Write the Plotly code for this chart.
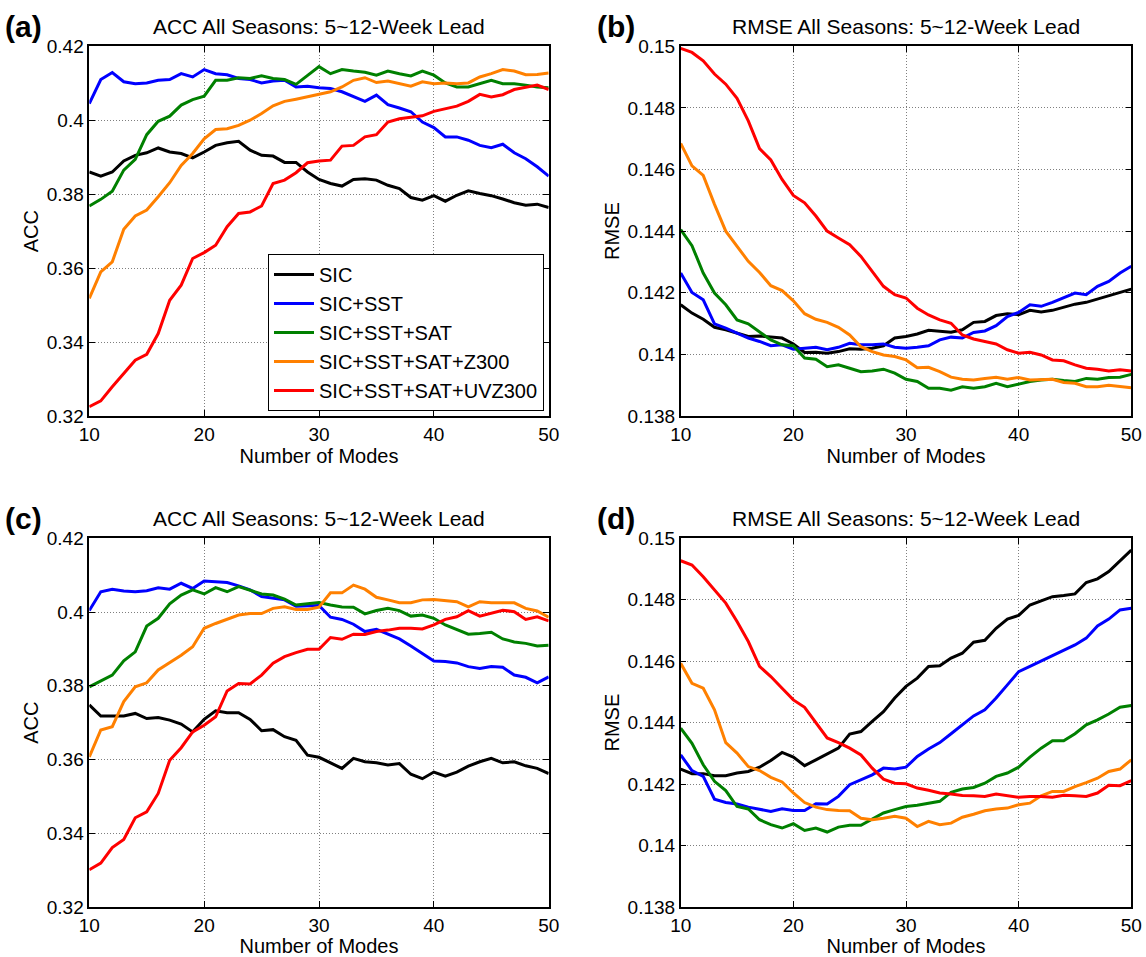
import plotly.graph_objects as go

W, H = 1146, 957

modes = list(range(10, 51))
series_names = ["SIC", "SIC+SST", "SIC+SST+SAT", "SIC+SST+SAT+Z300", "SIC+SST+SAT+UVZ300"]
series_colors = ["#000000", "#0000FF", "#008000", "#FF8000", "#FF0000"]

x_ticks = [10, 20, 30, 40, 50]
acc_ticks = [0.32, 0.34, 0.36, 0.38, 0.40, 0.42]
acc_tick_text = ["0.32", "0.34", "0.36", "0.38", "0.4", "0.42"]
rmse_ticks = [0.138, 0.140, 0.142, 0.144, 0.146, 0.148, 0.150]
rmse_tick_text = ["0.138", "0.14", "0.142", "0.144", "0.146", "0.148", "0.15"]

# ---- panel (a): ACC ----
acc_a_sic = [0.3860, 0.3849, 0.3860, 0.3890, 0.3905, 0.3912, 0.3925, 0.3914, 0.3910, 0.3898, 0.3914,
             0.3932, 0.3939, 0.3943, 0.3919, 0.3905, 0.3903, 0.3886, 0.3886, 0.3860, 0.3840,
             0.3829, 0.3822, 0.3840, 0.3842, 0.3838, 0.3824, 0.3815, 0.3791, 0.3784, 0.3796,
             0.3781, 0.3797, 0.3809, 0.3802, 0.3796, 0.3787, 0.3777, 0.3770, 0.3773, 0.3764]
acc_a_sst = [0.4045, 0.4110, 0.4129, 0.4104, 0.4099, 0.4101, 0.4108, 0.4110, 0.4126, 0.4117, 0.4137,
             0.4126, 0.4123, 0.4113, 0.4110, 0.4101, 0.4106, 0.4108, 0.4090, 0.4092, 0.4088,
             0.4086, 0.4077, 0.4065, 0.4051, 0.4068, 0.4042, 0.4033, 0.4023, 0.3995, 0.3980,
             0.3955, 0.3955, 0.3946, 0.3932, 0.3926, 0.3935, 0.3912, 0.3896, 0.3874, 0.3849]
acc_a_sat = [0.3768, 0.3786, 0.3808, 0.3865, 0.3894, 0.3961, 0.3997, 0.4011, 0.4041, 0.4056, 0.4065,
             0.4108, 0.4108, 0.4115, 0.4113, 0.4120, 0.4113, 0.4110, 0.4097, 0.4122, 0.4145,
             0.4126, 0.4137, 0.4133, 0.4130, 0.4122, 0.4133, 0.4126, 0.4120, 0.4133, 0.4122,
             0.4101, 0.4090, 0.4090, 0.4099, 0.4108, 0.4099, 0.4099, 0.4095, 0.4090, 0.4088]
acc_a_z300 = [0.3518, 0.3590, 0.3617, 0.3705, 0.3741, 0.3757, 0.3793, 0.3831, 0.3878, 0.3910, 0.3950,
              0.3975, 0.3977, 0.3986, 0.4000, 0.4018, 0.4039, 0.4051, 0.4057, 0.4063, 0.4070,
              0.4077, 0.4090, 0.4108, 0.4115, 0.4102, 0.4106, 0.4099, 0.4092, 0.4104, 0.4099,
              0.4101, 0.4099, 0.4101, 0.4117, 0.4126, 0.4137, 0.4133, 0.4123, 0.4124, 0.4128]
acc_a_uvz300 = [0.3225, 0.3241, 0.3279, 0.3315, 0.3351, 0.3367, 0.3423, 0.3513, 0.3554, 0.3626, 0.3642,
                0.3662, 0.3712, 0.3748, 0.3752, 0.3768, 0.3829, 0.3838, 0.3858, 0.3885, 0.3890,
                0.3892, 0.3930, 0.3932, 0.3955, 0.3961, 0.3995, 0.4004, 0.4009, 0.4012, 0.4024,
                0.4032, 0.4038, 0.4051, 0.4070, 0.4063, 0.4069, 0.4083, 0.4090, 0.4095, 0.4083]

# ---- panel (b): RMSE ----
rmse_b_sic = [0.14161, 0.14134, 0.14114, 0.14088, 0.14080, 0.14069, 0.14058, 0.14060, 0.14056, 0.14053, 0.14034,
              0.14006, 0.14007, 0.14004, 0.14009, 0.14018, 0.14017, 0.14020, 0.14028, 0.14053, 0.14058,
              0.14066, 0.14078, 0.14076, 0.14072, 0.14080, 0.14104, 0.14107, 0.14126, 0.14132, 0.14129,
              0.14143, 0.14138, 0.14143, 0.14152, 0.14163, 0.14169, 0.14180, 0.14190, 0.14201, 0.14212]
rmse_b_sst = [0.14264, 0.14201, 0.14177, 0.14099, 0.14085, 0.14069, 0.14053, 0.14042, 0.14028, 0.14031, 0.14017,
              0.14020, 0.14023, 0.14015, 0.14023, 0.14036, 0.14031, 0.14031, 0.14034, 0.14023, 0.14020,
              0.14023, 0.14028, 0.14047, 0.14056, 0.14053, 0.14071, 0.14076, 0.14093, 0.14123, 0.14136,
              0.14161, 0.14156, 0.14169, 0.14183, 0.14199, 0.14194, 0.14221, 0.14237, 0.14264, 0.14286]
rmse_b_sat = [0.14405, 0.14353, 0.14264, 0.14199, 0.14161, 0.14112, 0.14099, 0.14074, 0.14047, 0.14031, 0.14028,
              0.13988, 0.13984, 0.13960, 0.13966, 0.13955, 0.13944, 0.13946, 0.13952, 0.13939, 0.13919,
              0.13912, 0.13890, 0.13890, 0.13884, 0.13895, 0.13890, 0.13895, 0.13906, 0.13895, 0.13904,
              0.13912, 0.13917, 0.13919, 0.13915, 0.13912, 0.13922, 0.13919, 0.13925, 0.13926, 0.13935]
rmse_b_z300 = [0.14685, 0.14612, 0.14581, 0.14487, 0.14400, 0.14351, 0.14302, 0.14266, 0.14223, 0.14207, 0.14174,
               0.14132, 0.14114, 0.14104, 0.14088, 0.14063, 0.14025, 0.14009, 0.13998, 0.13993, 0.13982,
               0.13957, 0.13958, 0.13944, 0.13926, 0.13919, 0.13917, 0.13922, 0.13926, 0.13919, 0.13925,
               0.13917, 0.13919, 0.13919, 0.13909, 0.13906, 0.13895, 0.13895, 0.13900, 0.13895, 0.13892]
rmse_b_uvz300 = [0.14993, 0.14980, 0.14953, 0.14910, 0.14877, 0.14831, 0.14758, 0.14668, 0.14631, 0.14568, 0.14516,
                 0.14492, 0.14449, 0.14400, 0.14378, 0.14356, 0.14318, 0.14270, 0.14221, 0.14194, 0.14183,
                 0.14150, 0.14128, 0.14112, 0.14101, 0.14063, 0.14050, 0.14042, 0.14034, 0.14015, 0.14004,
                 0.14007, 0.13998, 0.13982, 0.13979, 0.13966, 0.13955, 0.13952, 0.13946, 0.13950, 0.13946]

# ---- panel (c): ACC ----
acc_c_sic = [0.3748, 0.3718, 0.3718, 0.3718, 0.3725, 0.3711, 0.3714, 0.3707, 0.3696, 0.3675, 0.3709,
             0.3732, 0.3727, 0.3727, 0.3709, 0.3678, 0.3681, 0.3662, 0.3652, 0.3612, 0.3606,
             0.3591, 0.3576, 0.3603, 0.3594, 0.3591, 0.3585, 0.3589, 0.3560, 0.3548, 0.3566,
             0.3555, 0.3566, 0.3582, 0.3594, 0.3603, 0.3591, 0.3594, 0.3583, 0.3576, 0.3562]
acc_c_sst = [0.4004, 0.4055, 0.4062, 0.4057, 0.4055, 0.4058, 0.4066, 0.4062, 0.4078, 0.4064, 0.4084,
             0.4082, 0.4080, 0.4071, 0.4060, 0.4042, 0.4037, 0.4033, 0.4016, 0.4016, 0.4018,
             0.3986, 0.3980, 0.3967, 0.3947, 0.3953, 0.3940, 0.3927, 0.3908, 0.3888, 0.3867,
             0.3866, 0.3862, 0.3852, 0.3847, 0.3852, 0.3850, 0.3829, 0.3823, 0.3808, 0.3824]
acc_c_sat = [0.3797, 0.3814, 0.3829, 0.3868, 0.3892, 0.3962, 0.3983, 0.4022, 0.4046, 0.4060, 0.4049,
             0.4066, 0.4055, 0.4069, 0.4058, 0.4049, 0.4046, 0.4035, 0.4019, 0.4023, 0.4026,
             0.4019, 0.4014, 0.4013, 0.3995, 0.4004, 0.4010, 0.4004, 0.3989, 0.3992, 0.3983,
             0.3965, 0.3953, 0.3940, 0.3942, 0.3945, 0.3927, 0.3919, 0.3915, 0.3908, 0.3910]
acc_c_z300 = [0.3607, 0.3680, 0.3689, 0.3757, 0.3797, 0.3808, 0.3843, 0.3862, 0.3883, 0.3906, 0.3956,
              0.3969, 0.3980, 0.3992, 0.3996, 0.3996, 0.4010, 0.4014, 0.4007, 0.4007, 0.4013,
              0.4052, 0.4052, 0.4073, 0.4062, 0.4040, 0.4033, 0.4025, 0.4025, 0.4033, 0.4034,
              0.4030, 0.4028, 0.4014, 0.4028, 0.4025, 0.4025, 0.4025, 0.4010, 0.4003, 0.3986]
acc_c_uvz300 = [0.3301, 0.3319, 0.3361, 0.3383, 0.3442, 0.3458, 0.3508, 0.3598, 0.3632, 0.3675, 0.3693,
                0.3716, 0.3786, 0.3806, 0.3805, 0.3829, 0.3861, 0.3879, 0.3890, 0.3899, 0.3899,
                0.3931, 0.3926, 0.3940, 0.3939, 0.3947, 0.3951, 0.3956, 0.3956, 0.3954, 0.3965,
                0.3980, 0.3987, 0.4004, 0.3989, 0.3996, 0.4005, 0.4001, 0.3980, 0.3987, 0.3976]

# ---- panel (d): RMSE ----
rmse_d_sic = [0.14249, 0.14234, 0.14234, 0.14227, 0.14227, 0.14236, 0.14241, 0.14255, 0.14277, 0.14303, 0.14288,
              0.14260, 0.14279, 0.14299, 0.14317, 0.14363, 0.14371, 0.14404, 0.14436, 0.14480, 0.14518,
              0.14545, 0.14583, 0.14585, 0.14610, 0.14626, 0.14662, 0.14668, 0.14707, 0.14737, 0.14749,
              0.14783, 0.14796, 0.14810, 0.14814, 0.14819, 0.14856, 0.14868, 0.14892, 0.14926, 0.14962]
rmse_d_sst = [0.14295, 0.14244, 0.14225, 0.14151, 0.14140, 0.14135, 0.14125, 0.14119, 0.14111, 0.14120, 0.14114,
              0.14114, 0.14136, 0.14135, 0.14160, 0.14198, 0.14214, 0.14230, 0.14252, 0.14249, 0.14255,
              0.14290, 0.14314, 0.14335, 0.14364, 0.14393, 0.14422, 0.14442, 0.14480, 0.14523, 0.14566,
              0.14583, 0.14601, 0.14617, 0.14637, 0.14653, 0.14675, 0.14715, 0.14737, 0.14767, 0.14772]
rmse_d_sat = [0.14382, 0.14333, 0.14263, 0.14209, 0.14179, 0.14127, 0.14119, 0.14084, 0.14068, 0.14057, 0.14071,
              0.14049, 0.14057, 0.14044, 0.14060, 0.14066, 0.14066, 0.14086, 0.14106, 0.14117, 0.14127,
              0.14131, 0.14138, 0.14144, 0.14173, 0.14184, 0.14189, 0.14203, 0.14225, 0.14236, 0.14255,
              0.14288, 0.14317, 0.14341, 0.14341, 0.14364, 0.14393, 0.14409, 0.14428, 0.14450, 0.14456]
rmse_d_z300 = [0.14593, 0.14528, 0.14512, 0.14442, 0.14335, 0.14301, 0.14257, 0.14244, 0.14222, 0.14207, 0.14171,
               0.14140, 0.14125, 0.14117, 0.14114, 0.14113, 0.14089, 0.14084, 0.14089, 0.14095, 0.14089,
               0.14062, 0.14079, 0.14068, 0.14073, 0.14092, 0.14102, 0.14113, 0.14119, 0.14122, 0.14133,
               0.14138, 0.14162, 0.14176, 0.14176, 0.14192, 0.14205, 0.14219, 0.14241, 0.14249, 0.14279]
rmse_d_uvz300 = [0.14927, 0.14913, 0.14875, 0.14832, 0.14789, 0.14729, 0.14664, 0.14583, 0.14550, 0.14512, 0.14474,
                 0.14450, 0.14398, 0.14350, 0.14335, 0.14317, 0.14295, 0.14252, 0.14216, 0.14203, 0.14201,
                 0.14187, 0.14180, 0.14171, 0.14168, 0.14163, 0.14162, 0.14160, 0.14168, 0.14163, 0.14157,
                 0.14160, 0.14160, 0.14157, 0.14164, 0.14162, 0.14160, 0.14171, 0.14196, 0.14195, 0.14211]

panel_titles = ["ACC All Seasons: 5~12-Week Lead", "RMSE All Seasons: 5~12-Week Lead",
                "ACC All Seasons: 5~12-Week Lead", "RMSE All Seasons: 5~12-Week Lead"]
panel_labels = ["(a)", "(b)", "(c)", "(d)"]
y_titles = ["ACC", "RMSE", "ACC", "RMSE"]
x_title = "Number of Modes"

panels = [
    [acc_a_sic, acc_a_sst, acc_a_sat, acc_a_z300, acc_a_uvz300],
    [rmse_b_sic, rmse_b_sst, rmse_b_sat, rmse_b_z300, rmse_b_uvz300],
    [acc_c_sic, acc_c_sst, acc_c_sat, acc_c_z300, acc_c_uvz300],
    [rmse_d_sic, rmse_d_sst, rmse_d_sat, rmse_d_z300, rmse_d_uvz300],
]

FONT = "Liberation Sans, Arial, sans-serif"


def px(x):
    return x / W


def py(y):
    return 1 - y / H


# layout geometry (pixels)
left_cols = [(89.3, 548.7), (680.7, 1131.3)]
rows = [(46.3, 416.0), (538.3, 907.0)]

fig = go.Figure()
layout_axes = {}
annotations = []
for i, data in enumerate(panels):
    r, c = divmod(i, 2)
    xk = "x" if i == 0 else f"x{i+1}"
    yk = "y" if i == 0 else f"y{i+1}"
    for j, vals in enumerate(data):
        fig.add_trace(go.Scatter(
            x=modes, y=vals, mode="lines", name=series_names[j],
            line=dict(color=series_colors[j], width=3),
            showlegend=(i == 0), xaxis=xk, yaxis=yk))
    x0, x1 = left_cols[c]
    ytop, ybot = rows[r]
    is_acc = (c == 0)
    common = dict(showline=True, linecolor="black", linewidth=1.5, mirror="ticks",
                  ticks="inside", ticklen=6, tickcolor="black", tickwidth=1,
                  showgrid=True, gridcolor="#7f7f7f", griddash="1px,2px", gridwidth=1,
                  zeroline=False, tickfont=dict(family=FONT, size=19, color="black"),
                  automargin=False)
    layout_axes["xaxis" if i == 0 else f"xaxis{i+1}"] = dict(
        common, domain=[px(x0), px(x1)], range=[10, 50], tickvals=x_ticks,
        anchor=yk,
        title=dict(text=x_title, font=dict(family=FONT, size=20, color="black"), standoff=4))
    layout_axes["yaxis" if i == 0 else f"yaxis{i+1}"] = dict(
        common, domain=[py(ybot), py(ytop)],
        range=[0.32, 0.42] if is_acc else [0.138, 0.150],
        tickvals=acc_ticks if is_acc else rmse_ticks,
        ticktext=acc_tick_text if is_acc else rmse_tick_text,
        anchor=xk,
        title=dict(text=y_titles[i], font=dict(family=FONT, size=20, color="black"), standoff=3))
    annotations.append(dict(text=panel_titles[i], xref="paper", yref="paper",
                            x=px((x0 + x1) / 2), y=py(ytop - 20), xanchor="center", yanchor="middle",
                            showarrow=False, font=dict(family=FONT, size=21, color="black")))
    annotations.append(dict(text="<b>" + panel_labels[i] + "</b>", xref="paper", yref="paper",
                            x=px(3 if c == 0 else 595), y=py(ytop - 20), xanchor="left", yanchor="middle",
                            showarrow=False, font=dict(family=FONT, size=30, color="black")))

fig.update_layout(
    width=W, height=H, margin=dict(l=0, r=0, t=0, b=0),
    paper_bgcolor="white", plot_bgcolor="white",
    font=dict(family=FONT, color="black"),
    annotations=annotations,
    legend=dict(x=px(544), y=py(411), xanchor="right", yanchor="bottom",
                bgcolor="white", bordercolor="black", borderwidth=1,
                font=dict(family=FONT, size=20, color="black"),
                tracegroupgap=0, itemwidth=40),
    **layout_axes,
)

fig.write_html("out.html")
